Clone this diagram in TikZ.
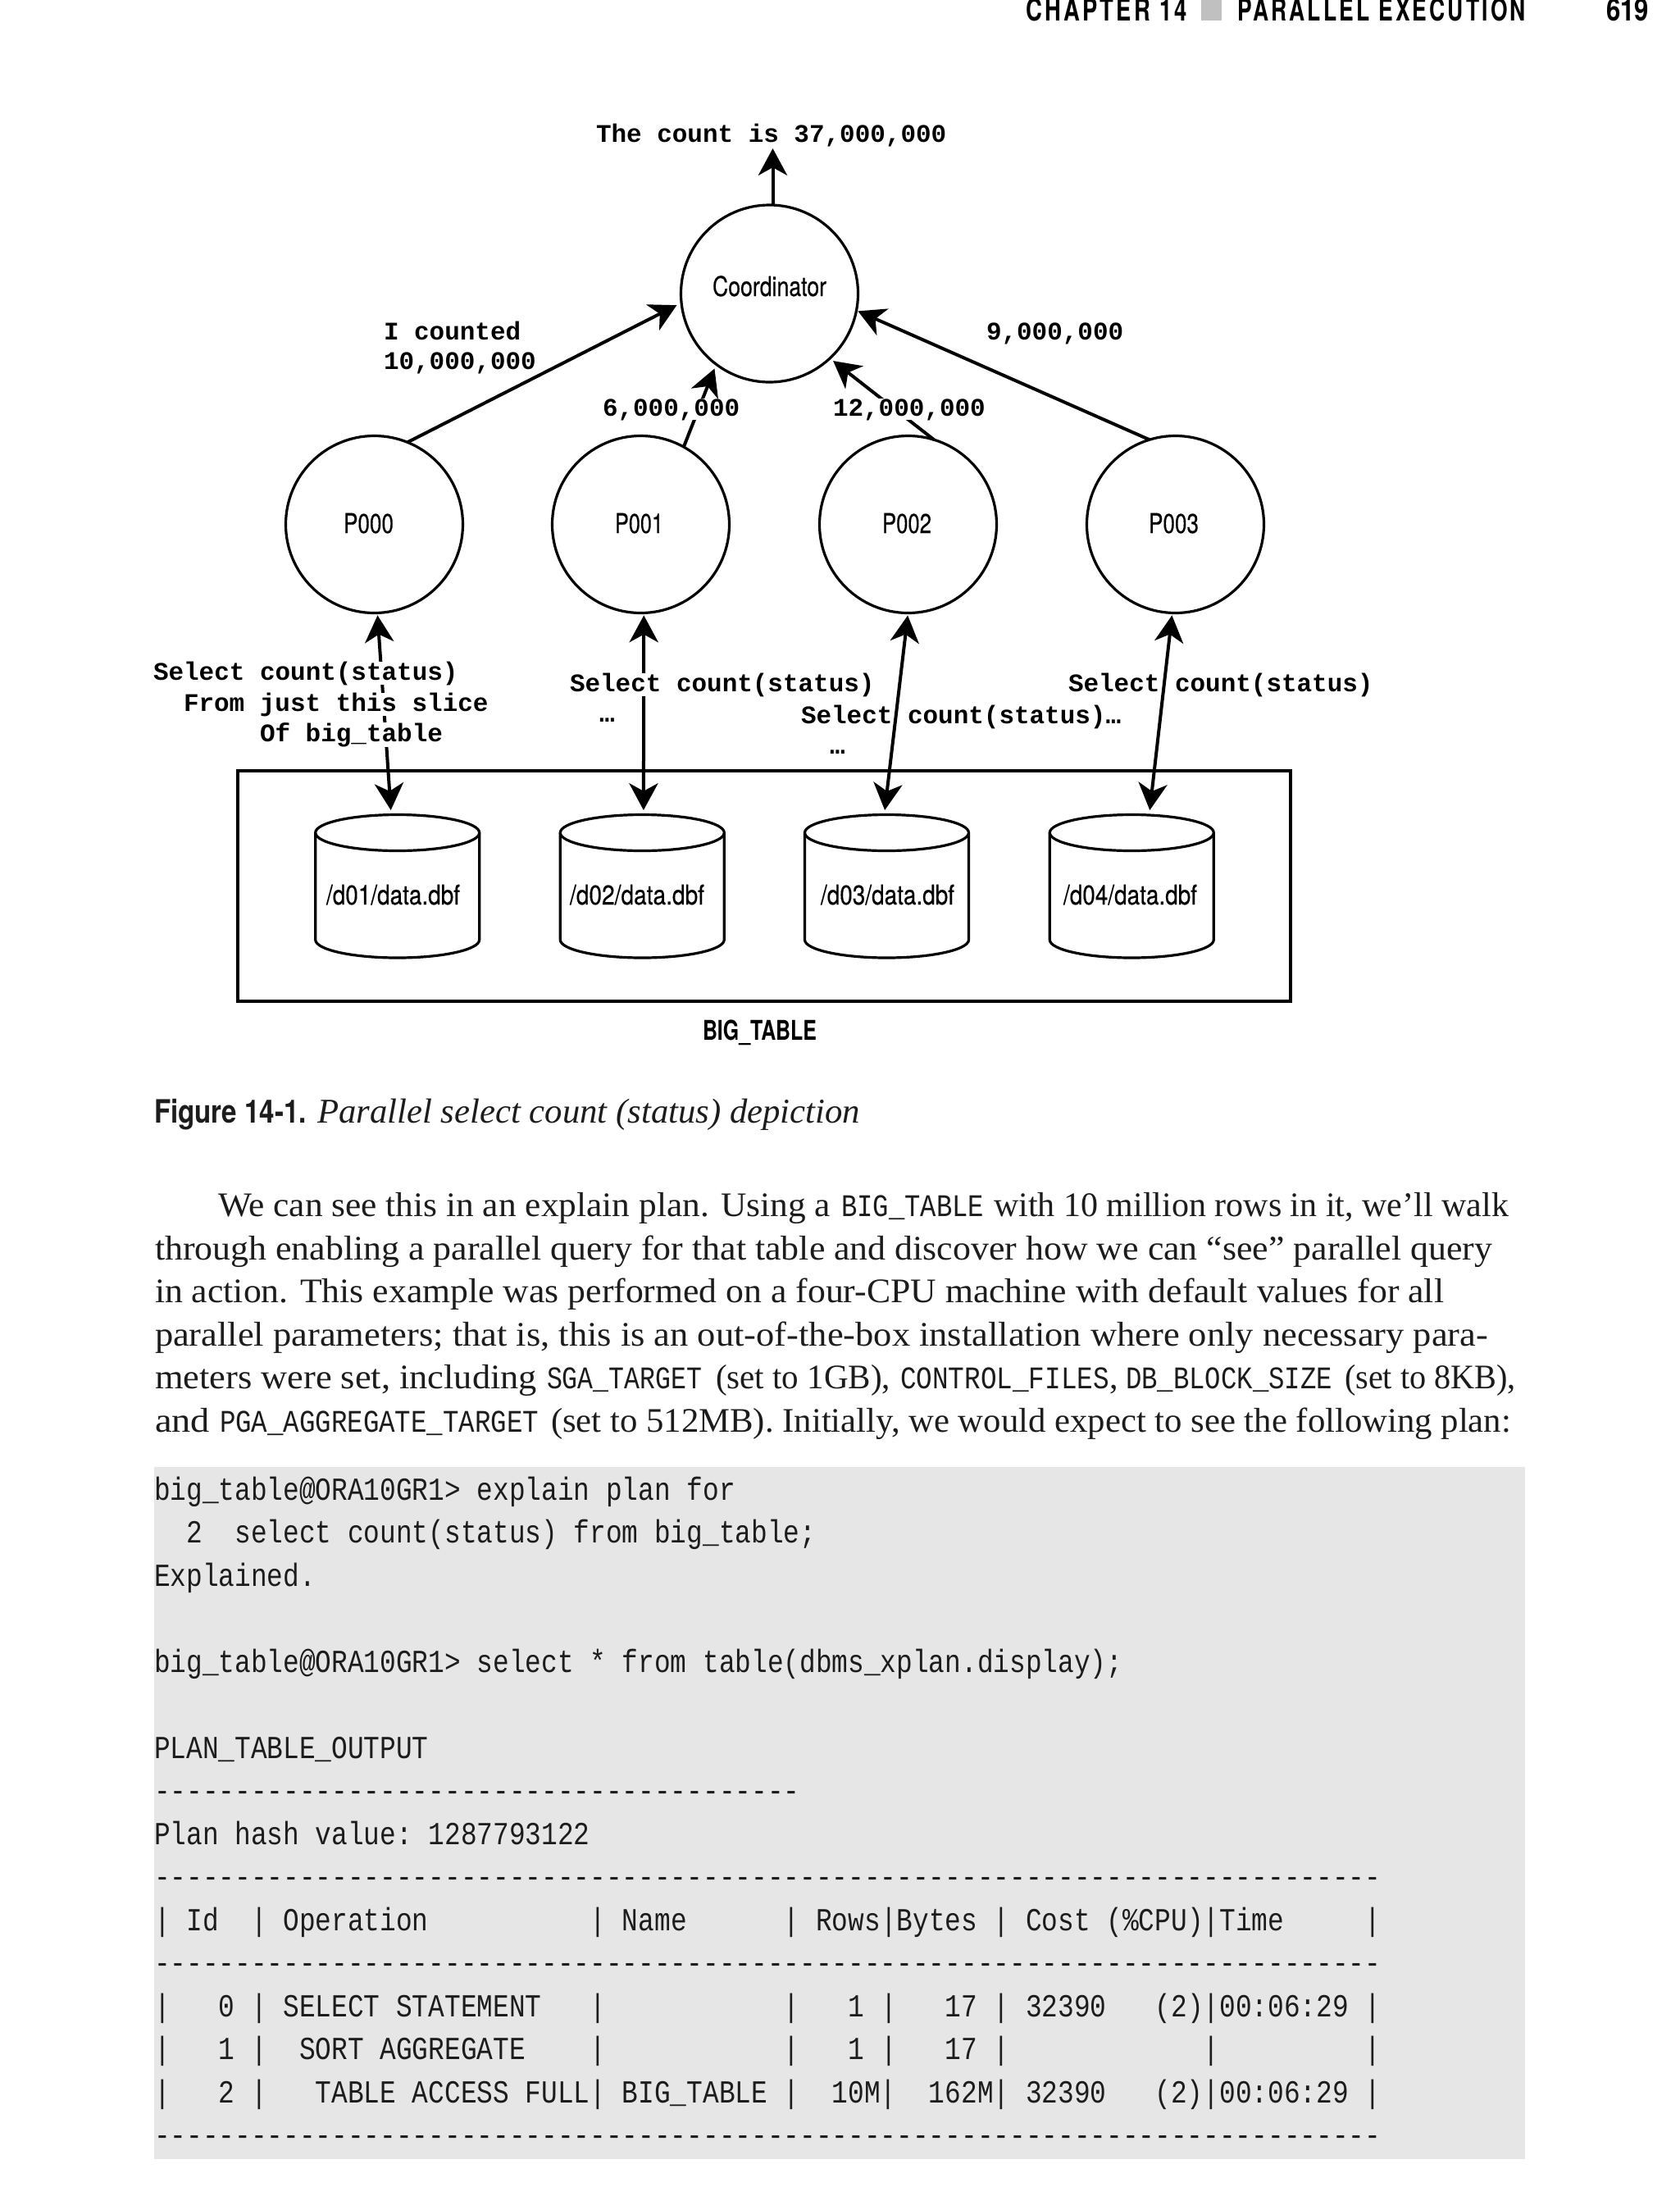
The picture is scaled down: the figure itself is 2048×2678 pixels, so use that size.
\documentclass[tikz,border=0pt]{standalone}
\usepackage{fontspec}
\usepackage{graphicx}
\usetikzlibrary{arrows.meta,calc}
\setmainfont{Liberation Serif}
\newfontfamily\codef[FakeStretch=0.837]{Liberation Mono}
\newfontfamily\labf{Liberation Mono}
\newfontfamily\sansf{TeX Gyre Heros}
\newfontfamily\sansm[FakeBold=0.35]{TeX Gyre Heros}
\definecolor{ink}{HTML}{1C1C1C}
\definecolor{codebg}{HTML}{E6E6E6}
\definecolor{headsq}{HTML}{C0C0C0}
\newcommand\fitw[2]{\resizebox{\dimexpr #1pt/4\relax}{\height}{#2}}
\newcommand\cc[1]{{\codef\fontsize{9.6pt}{12pt}\selectfont #1}}
\newcommand\cylshape[2]{%
  \node[cylbox] (#1) at (#2,1080.5) {};
  \draw[shapeline] (#2,1015.5) ellipse [x radius=25pt,y radius=5.5pt];
  \draw[shapeline] (#2-100,1015.5) -- (#2-100,1146) arc[start angle=180,end angle=360,x radius=25pt,y radius=5.5pt] -- (#2+100,1015.5);
}
\newcommand\codeln[3]{\node[codeline] (#1) at (188,1829+52.5*#2) {\frenchspacing #3};}
\newcommand\bodyln[5]{\node[bodyline] (#1) at (#2,#3) {\fitw{#4}{#5}};}
\tikzset{
  shapeline/.style={line width=.8pt,draw=black},
  cylbox/.style={minimum width=50pt,minimum height=43.75pt,inner sep=0pt,outer sep=0pt},
  proc/.style={circle,draw=black,line width=.8pt,minimum size=54pt,inner sep=0pt,outer sep=0pt},
  flow/.style={line width=1pt,-{Stealth[length=8.2pt,width=8.8pt,inset=2.4pt]}},
  biflow/.style={line width=1pt,{Stealth[length=8.2pt,width=8.8pt,inset=2.4pt]}-{Stealth[length=8.2pt,width=8.8pt,inset=2.4pt]}},
  lab/.style={inner sep=0pt,outer sep=0pt,anchor=base west,font=\labf\bfseries\fontsize{7.74pt}{9pt}\selectfont},
  wlab/.style={lab,fill=white},
  dia/.style={inner sep=0pt,outer sep=0pt,anchor=base west,font=\sansm\fontsize{8.3pt}{10pt}\selectfont},
  codeline/.style={inner sep=0pt,outer sep=0pt,anchor=base west,text=ink,font=\codef\fontsize{9.8pt}{12pt}\selectfont},
  bodyline/.style={inner sep=0pt,outer sep=0pt,anchor=base west,text=ink,font=\fontsize{10.5pt}{12pt}\selectfont},
  headtxt/.style={inner sep=0pt,outer sep=0pt,anchor=base west,font=\sansf\bfseries\fontsize{9.4pt}{11pt}\selectfont},
}
\begin{document}
\begin{tikzpicture}[x=0.25pt,y=-0.25pt]
\useasboundingbox (0,0) rectangle (2048,2678);
\fill[white] (0,0) rectangle (2048,2678);

% page header
\node[headtxt] (hchap) at (1251,25) {\fitw{197}{\addfontfeature{LetterSpace=12}CHAPTER 14}};
\fill[headsq] (1465,0) rectangle (1490,25);
\node[headtxt] (hpar) at (1509,25) {\fitw{352}{\addfontfeature{LetterSpace=12}PARALLEL EXECUTION}};
\node[headtxt] (hpage) at (1959,25) {\fitw{52}{619}};

% circles
\node[proc] (coord) at (938.5,358) {};
\node[proc] (p0) at (456.5,639.5) {};
\node[proc] (p1) at (781.5,639.5) {};
\node[proc] (p2) at (1107.5,639.5) {};
\node[proc] (p3) at (1433.5,639.5) {};
\node[dia] (tcoord) at (869,361) {\fitw{139}{Coordinator}};
\node[dia] (tp0) at (419,650) {\fitw{61}{P000}};
\node[dia] (tp1) at (750,650) {\fitw{59}{P001}};
\node[dia] (tp2) at (1076,650) {\fitw{60}{P002}};
\node[dia] (tp3) at (1401,650) {\fitw{61}{P003}};

% table box and cylinders
\draw[shapeline] (290,940) rectangle (1574,1221);
\cylshape{c1}{484.7}
\cylshape{c2}{783.3}
\cylshape{c3}{1081.5}
\cylshape{c4}{1380.3}
\node[dia] (td1) at (398,1103) {\fitw{163}{/d01/data.dbf}};
\node[dia] (td2) at (695,1103) {\fitw{164}{/d02/data.dbf}};
\node[dia] (td3) at (1001,1103) {\fitw{163}{/d03/data.dbf}};
\node[dia] (td4) at (1297,1103) {\fitw{163}{/d04/data.dbf}};
\node[dia,font=\sansf\bfseries\fontsize{8.3pt}{10pt}\selectfont] (tbig) at (857,1268) {\fitw{139}{BIG\_TABLE}};

% connectors
\coordinate (toptip) at (942.5,181);
\draw[flow] (toptip |- coord.north) -- (toptip);
\draw[flow,shorten >=1.6pt] (p0.68) -- (coord.186);
\draw[flow,shorten >=1.4pt] (p1.61) -- (coord.233);
\draw[flow,shorten >=1.25pt] (p2.73) -- (coord.313);
\draw[flow,shorten >=.5pt] (p3.107) -- (coord.349);
\draw[biflow,shorten <=.75pt] (p0.272.6) -- ([xshift=-2pt,yshift=1.25pt]c1.north);
\draw[biflow,shorten <=.75pt] (p1.272.6) -- ([xshift=.4pt,yshift=1.25pt]c2.north);
\draw[biflow,shorten <=.75pt] (p2.270) -- ([xshift=-.6pt,yshift=1.25pt]c3.north);
\draw[biflow,shorten <=.75pt] (p3.268) -- ([xshift=5.5pt,yshift=1.25pt]c4.north);

% connector labels
\node[lab] (ltotal) at (727,173) {The count is 37,000,000};
\node[lab] (lc1) at (468,414) {I counted};
\node[lab] (lc2) at (468,450) {10,000,000};
\node[lab] (l9) at (1203,414) {9,000,000};
\node[wlab] (l6) at (735,507) {6,000,000};
\node[wlab] (l12) at (1016,507) {12,000,000};
\node[wlab] (ls1) at (187,829) {Select count(status)};
\node[wlab] (ls2) at (224,867) {From just this slice};
\node[wlab] (ls3) at (317,904) {Of big\_table};
\node[wlab] (ls4) at (695,843) {Select count(status)};
\node[lab] (ls5) at (731,880) {…};
\node[lab] (ls6) at (977,882) {Select count(status)…};
\node[lab] (ls7) at (1012,919) {…};
\node[lab] (ls8) at (1303,843) {Select count(status)};

% caption
\node[dia,font=\sansf\bfseries\fontsize{9.8pt}{12pt}\selectfont,text=ink] (capa) at (188,1369) {\fitw{186}{Figure 14-1.}};
\node[bodyline,font=\itshape\fontsize{10.6pt}{12pt}\selectfont] (capb) at (387,1369) {\fitw{662}{Parallel select count (status) depiction}};

% body text
\bodyln{b1a}{266}{1483}{747}{We can see this in an explain plan. Using a}
\bodyln{b1b}{1026}{1483}{174}{\cc{BIG\_TABLE}}
\bodyln{b1c}{1212}{1483}{628}{with 10 million rows in it, we’ll walk}
\bodyln{b2}{189}{1536}{1631}{through enabling a parallel query for that table and discover how we can “see” parallel query}
\bodyln{b3}{189}{1588}{1572}{in action. This example was performed on a four-CPU machine with default values for all}
\bodyln{b4}{189}{1641}{1626}{parallel parameters; that is, this is an out-of-the-box installation where only necessary para-}
\bodyln{b5a}{189}{1693}{466}{meters were set, including}
\bodyln{b5b}{667}{1693}{189}{\cc{SGA\_TARGET}}
\bodyln{b5c}{873}{1693}{213}{(set to 1GB),}
\bodyln{b5d}{1098}{1693}{255}{\cc{CONTROL\_FILES}}
\node[bodyline] (b5e) at (1353,1693) {,};
\bodyln{b5f}{1373}{1693}{252}{\cc{DB\_BLOCK\_SIZE}}
\bodyln{b5g}{1640}{1693}{209}{(set to 8KB),}
\bodyln{b6a}{189}{1746}{67}{and}
\bodyln{b6b}{268}{1746}{389}{\cc{PGA\_AGGREGATE\_TARGET}}
\bodyln{b6c}{672}{1746}{1171}{(set to 512MB). Initially, we would expect to see the following plan:}

% code block
\fill[codebg] (188,1789) rectangle (1860,2633);
\codeln{k0}{0}{big\_table@ORA10GR1> explain plan for}
\codeln{k1}{1}{~~2~~select count(status) from big\_table;}
\codeln{k2}{2}{Explained.}
\codeln{k4}{4}{big\_table@ORA10GR1> select * from table(dbms\_xplan.display);}
\codeln{k6}{6}{PLAN\_TABLE\_OUTPUT}
\codeln{k7}{7}{----------------------------------------}
\codeln{k8}{8}{Plan hash value: 1287793122}
\codeln{k9}{9}{----------------------------------------------------------------------------}
\codeln{k10}{10}{|~Id~~|~Operation~~~~~~~~~~|~Name~~~~~~|~Rows|Bytes~|~Cost~(\%CPU)|Time~~~~~|}
\codeln{k11}{11}{----------------------------------------------------------------------------}
\codeln{k12}{12}{|~~~0~|~SELECT~STATEMENT~~~|~~~~~~~~~~~|~~~1~|~~~17~|~32390~~~(2)|00:06:29~|}
\codeln{k13}{13}{|~~~1~|~~SORT~AGGREGATE~~~~|~~~~~~~~~~~|~~~1~|~~~17~|~~~~~~~~~~~~|~~~~~~~~~|}
\codeln{k14}{14}{|~~~2~|~~~TABLE~ACCESS~FULL|~BIG\_TABLE~|~~10M|~~162M|~32390~~~(2)|00:06:29~|}
\codeln{k15}{15}{----------------------------------------------------------------------------}
\end{tikzpicture}
\end{document}
